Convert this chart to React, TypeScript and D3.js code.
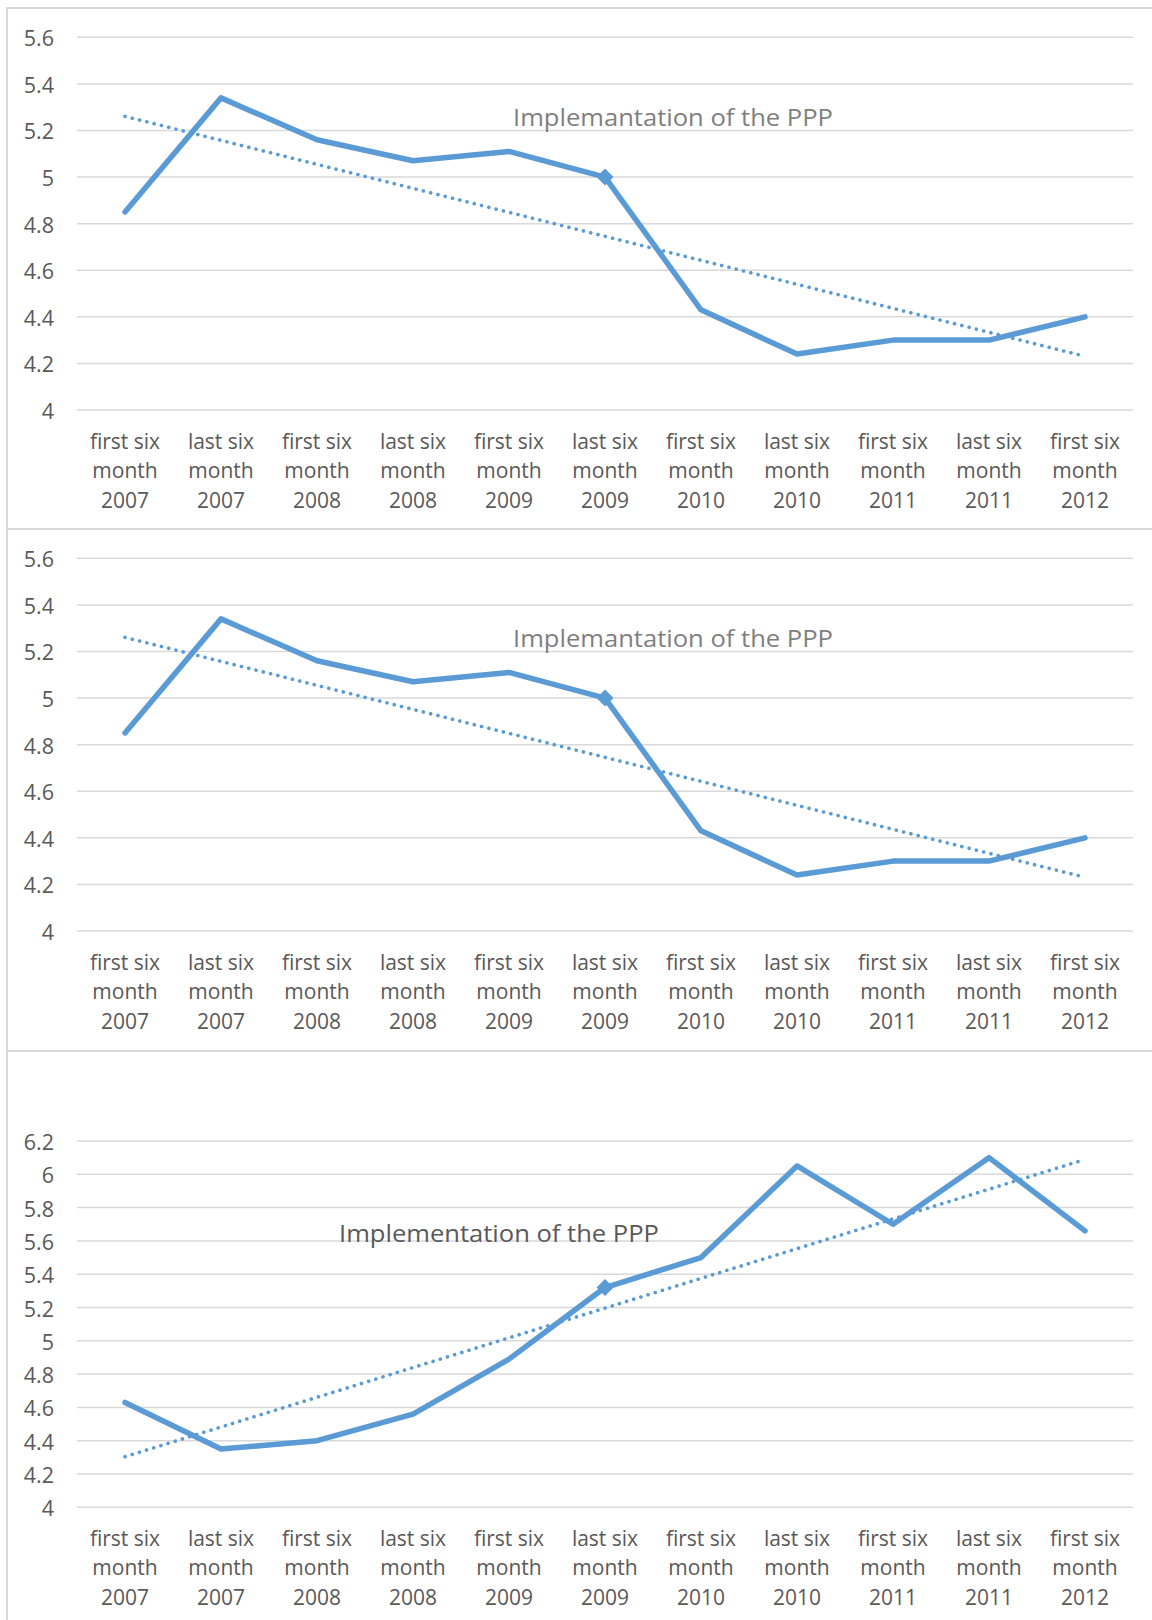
import React from "react";
import * as d3 from "d3";

const categoryLines: string[][] = [
  ["first six", "month", "2007"],
  ["last six", "month", "2007"],
  ["first six", "month", "2008"],
  ["last six", "month", "2008"],
  ["first six", "month", "2009"],
  ["last six", "month", "2009"],
  ["first six", "month", "2010"],
  ["last six", "month", "2010"],
  ["first six", "month", "2011"],
  ["last six", "month", "2011"],
  ["first six", "month", "2012"],
];
const categories = categoryLines.map((l) => l.join(" "));

const seriesTop = [4.85, 5.34, 5.16, 5.07, 5.11, 5.0, 4.43, 4.24, 4.3, 4.3, 4.4];
const seriesMiddle = [4.85, 5.34, 5.16, 5.07, 5.11, 5.0, 4.43, 4.24, 4.3, 4.3, 4.4];
const seriesBottom = [4.63, 4.35, 4.4, 4.56, 4.89, 5.32, 5.5, 6.05, 5.7, 6.1, 5.66];

const ticksTop = [4, 4.2, 4.4, 4.6, 4.8, 5, 5.2, 5.4, 5.6];
const ticksBottom = [4, 4.2, 4.4, 4.6, 4.8, 5, 5.2, 5.4, 5.6, 5.8, 6, 6.2];

const annotationTop = "Implemantation of the PPP";
const annotationBottom = "Implementation of the PPP";
const markerIndex = 5;

const BLUE = "#5b9bd5";
const GRID = "#d9d9d9";
const TEXT = "#595959";
const FONT = "'Open Sans', 'Noto Sans', sans-serif";

function trend(values: number[]): number[] {
  const xs = values.map((_, i) => i);
  const mx = d3.mean(xs) as number;
  const my = d3.mean(values) as number;
  let sxy = 0;
  let sxx = 0;
  xs.forEach((x, i) => {
    sxy += (x - mx) * (values[i] - my);
    sxx += (x - mx) * (x - mx);
  });
  const b = sxy / sxx;
  const a = my - b * mx;
  return xs.map((x) => a + b * x);
}

type PanelProps = {
  values: number[];
  ticks: number[];
  yTop: number;
  yBottom: number;
  annotation: string;
  annX: number;
  annY: number;
  annColor: string;
};

function Panel({ values, ticks, yTop, yBottom, annotation, annX, annY, annColor }: PanelProps) {
  const x = d3.scaleBand<string>().domain(categories).range([77, 1133]);
  const y = d3
    .scaleLinear()
    .domain([d3.min(ticks) as number, d3.max(ticks) as number])
    .range([yBottom, yTop]);
  const cx = (i: number) => (x(categories[i]) as number) + x.bandwidth() / 2;
  const line = d3
    .line<number>()
    .x((_, i) => cx(i))
    .y((d) => y(d));
  const tr = trend(values);
  const mx = cx(markerIndex);
  const my = y(values[markerIndex]);
  const m = 8.5;
  return (
    <g>
      {ticks.map((t) => (
        <g key={t}>
          <line x1={77} x2={1133} y1={y(t)} y2={y(t)} stroke={GRID} strokeWidth={1.5} />
          <text
            x={54}
            y={y(t) + 9}
            textAnchor="end"
            fontSize={21.5}
            fill={TEXT}
            fontFamily={FONT}
          >
            {String(+t.toFixed(1))}
          </text>
        </g>
      ))}
      {categoryLines.map((lines, i) => (
        <text key={i} textAnchor="middle" fontSize={21} fill={TEXT} fontFamily={FONT}>
          {lines.map((l, j) => (
            <tspan key={j} x={cx(i)} y={yBottom + 38.5 + j * 29.5}>
              {l}
            </tspan>
          ))}
        </text>
      ))}
      <path
        d={line(tr) as string}
        fill="none"
        stroke={BLUE}
        strokeWidth={3.6}
        strokeLinecap="round"
        strokeDasharray="0.1 7.4"
      />
      <path
        d={line(values) as string}
        fill="none"
        stroke={BLUE}
        strokeWidth={5.5}
        strokeLinejoin="round"
        strokeLinecap="round"
      />
      <path
        d={`M${mx},${my - m} L${mx + m},${my} L${mx},${my + m} L${mx - m},${my} Z`}
        fill={BLUE}
      />
      <text
        x={annX}
        y={annY}
        fontSize={24.5}
        fill={annColor}
        fontFamily={FONT}
        textLength={320}
        lengthAdjust="spacingAndGlyphs"
      >
        {annotation}
      </text>
    </g>
  );
}

export default function App() {
  return (
    <svg
      width={1152}
      height={1620}
      style={{ position: "absolute", left: 0, top: 0, display: "block", background: "#fff" }}
    >
      <rect x={0} y={0} width={1152} height={1620} fill="#fff" />
      <line x1={7} x2={1152} y1={8} y2={8} stroke={GRID} strokeWidth={2} />
      <line x1={7} x2={1152} y1={529} y2={529} stroke={GRID} strokeWidth={2} />
      <line x1={7} x2={1152} y1={1051} y2={1051} stroke={GRID} strokeWidth={2} />
      <line x1={7} x2={7} y1={7} y2={1620} stroke={GRID} strokeWidth={2} />
      <Panel
        values={seriesTop}
        ticks={ticksTop}
        yTop={37.3}
        yBottom={410}
        annotation={annotationTop}
        annX={513}
        annY={126}
        annColor="#7f7f7f"
      />
      <Panel
        values={seriesMiddle}
        ticks={ticksTop}
        yTop={558.3}
        yBottom={931}
        annotation={annotationTop}
        annX={513}
        annY={647}
        annColor="#7f7f7f"
      />
      <Panel
        values={seriesBottom}
        ticks={ticksBottom}
        yTop={1141}
        yBottom={1507.3}
        annotation={annotationBottom}
        annX={339}
        annY={1242}
        annColor={TEXT}
      />
    </svg>
  );
}
